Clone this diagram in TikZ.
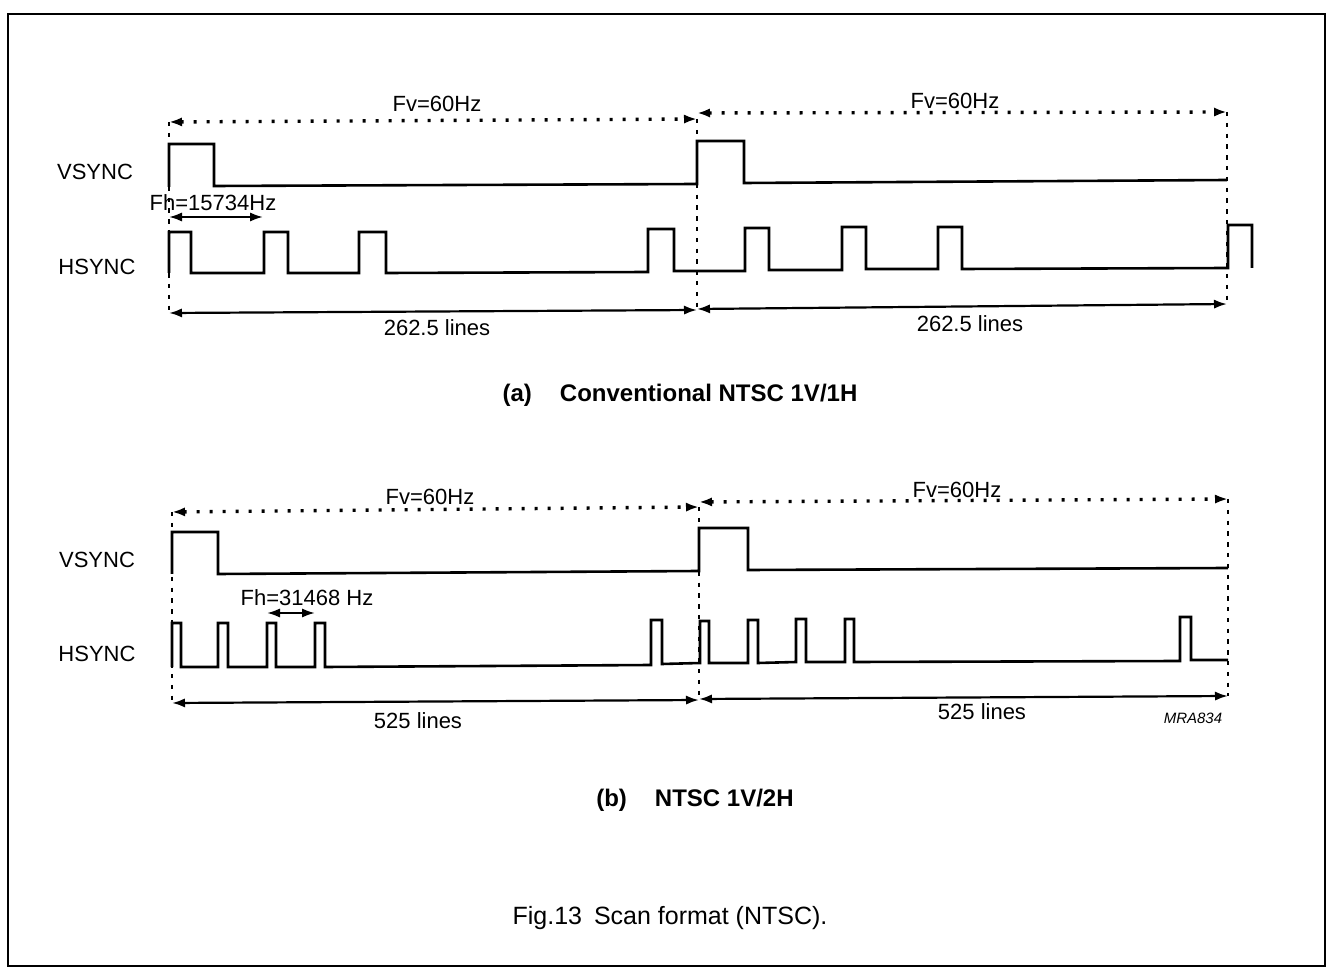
\documentclass[tikz,border=0pt]{standalone}
\usepackage{fontspec}
\setmainfont{Liberation Sans}
\usetikzlibrary{arrows.meta}
\tikzset{
    >={Latex[length=6.5pt,width=4.6pt]},
    frame/.style={draw=black, line width=1pt},
    signal/.style={draw=black, line width=1.3pt, line join=miter},
    marker/.style={draw=black, line width=1.4pt, dash pattern=on 2.2pt off 3.2pt},
    period/.style={draw=black, line width=1.7pt, dash pattern=on 1.5pt off 5pt, <->},
    span/.style={draw=black, line width=1.1pt, <->},
    lbl/.style={inner sep=0pt, font=\fontsize{11}{13}\selectfont},
    caption/.style={inner sep=0pt, font=\fontsize{12}{14}\selectfont\bfseries},
}

\begin{document}
\begin{tikzpicture}[x=0.5pt, y=-0.5pt]
\useasboundingbox (0,0) rectangle (1330,968);
\draw[frame] (8,14) rectangle (1325,966);

% (a) conventional 1V/1H
\coordinate (aTL) at (169,122);
\coordinate (aTM) at (697,119);
\coordinate (aTR) at (1227,112);
\coordinate (aBL) at (169,313);
\coordinate (aBM) at (697,310);
\coordinate (aBR) at (1227,304);
\draw[marker] (aTL) -- (aBL);
\draw[marker] (aTM) -- (aBM);
\draw[marker] (aTR) -- (aBR);
\draw[period] (aTL) -- (aTM);
\draw[period] (697,113) -- (aTR);
\draw[span] (aBL) -- (aBM);
\draw[span] (697,309) -- (aBR);
\node[lbl] (fva1) at (437,104) {Fv=60Hz};
\node[lbl] (fva2) at (955,101) {Fv=60Hz};
\node[lbl] (lna1) at (437,328) {262.5 lines};
\node[lbl] (lna2) at (970,324) {262.5 lines};
\node[lbl] (vsa) at (95,172) {VSYNC};
\node[lbl] (hsa) at (97,267) {HSYNC};
\node[lbl] (fha) at (213,203) {Fh=15734Hz};
\coordinate (fhaL) at (169,217);
\coordinate (fhaR) at (263,217);
\draw[span] (fhaL) -- (fhaR);
\draw[signal] (169,187) -- (169,144) -- (214,144) -- (214,186) -- (697,184)
    -- (697,141) -- (744,141) -- (744,183) -- (1227,180);
\draw[signal] (169,273) -- (169,232) -- (191,232) -- (191,273) -- (264,273)
    -- (264,232) -- (288,232) -- (288,273) -- (359,273) -- (359,232)
    -- (386,232) -- (386,273) -- (648,272) -- (648,229) -- (674,229)
    -- (674,271) -- (745,271) -- (745,228) -- (769,228) -- (769,270)
    -- (842,270) -- (842,227) -- (866,227) -- (866,269) -- (938,269)
    -- (938,227) -- (962,227) -- (962,269) -- (1228,268) -- (1228,225)
    -- (1252,225) -- (1252,268);
\node[caption] (capa) at (680,395) {(a)\hspace{14pt}Conventional NTSC 1V/1H};

% (b) 1V/2H
\coordinate (bTL) at (172,512);
\coordinate (bTM) at (699,507);
\coordinate (bTR) at (1228,499);
\coordinate (bBL) at (172,703);
\coordinate (bBM) at (699,700);
\coordinate (bBR) at (1228,696);
\draw[marker] (bTL) -- (bBL);
\draw[marker] (bTM) -- (bBM);
\draw[marker] (bTR) -- (bBR);
\draw[period] (bTL) -- (bTM);
\draw[period] (699,502) -- (bTR);
\draw[span] (bBL) -- (bBM);
\draw[span] (699,699) -- (bBR);
\node[lbl] (fvb1) at (430,497) {Fv=60Hz};
\node[lbl] (fvb2) at (957,490) {Fv=60Hz};
\node[lbl] (lnb1) at (418,721) {525 lines};
\node[lbl] (lnb2) at (982,712) {525 lines};
\node[lbl] (vsb) at (97,560) {VSYNC};
\node[lbl] (hsb) at (97,654) {HSYNC};
\node[lbl] (fhb) at (307,598) {Fh=31468 Hz};
\coordinate (fhbL) at (267,613);
\coordinate (fhbR) at (315,613);
\draw[span] (fhbL) -- (fhbR);
\draw[signal] (172,574) -- (172,532) -- (218,532) -- (218,574) -- (699,571)
    -- (699,528) -- (748,528) -- (748,570) -- (1228,568);
\draw[signal] (172,667) -- (172,623) -- (181,623) -- (181,667) -- (218,667)
    -- (218,623) -- (228,623) -- (228,667) -- (267,667) -- (267,623)
    -- (276,623) -- (276,667) -- (315,667) -- (315,623) -- (325,623)
    -- (325,667) -- (651,665) -- (651,620) -- (662,620) -- (662,664)
    -- (700,663) -- (700,621) -- (709,621) -- (709,663) -- (748,663)
    -- (748,620) -- (758,620) -- (758,663) -- (796,662) -- (796,619)
    -- (806,619) -- (806,662) -- (845,662) -- (845,619) -- (854,619)
    -- (854,662) -- (1180,661) -- (1180,617) -- (1191,617) -- (1191,660)
    -- (1228,660);
\node[inner sep=0pt, font=\fontsize{7.5}{9}\selectfont\itshape] (code) at (1193,718) {MRA834};
\node[caption] (capb) at (695,800) {(b)\hspace{14pt}NTSC 1V/2H};

\node[inner sep=0pt, font=\fontsize{12.5}{15}\selectfont] (fig) at (670,918) {Fig.13\hspace{6pt}Scan format (NTSC).};
\end{tikzpicture}
\end{document}
